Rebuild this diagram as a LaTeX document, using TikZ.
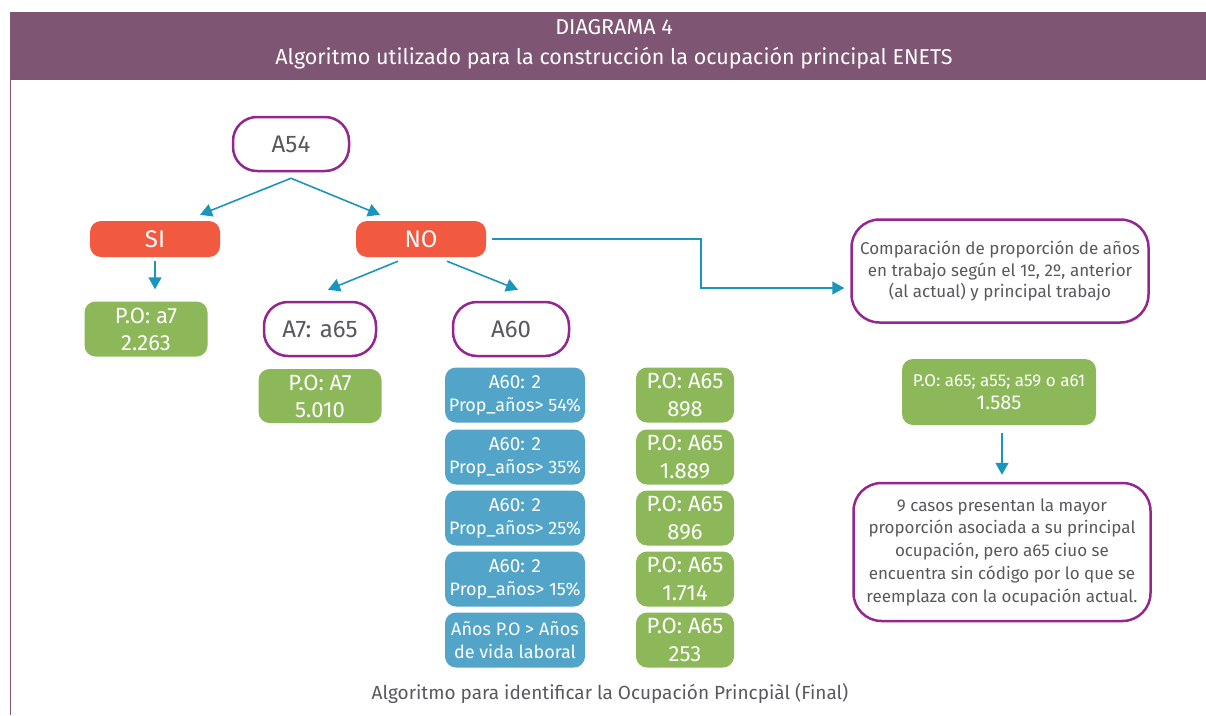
\documentclass[tikz,border=0pt]{standalone}
\usepackage{fontspec}
\setmainfont{Fira Sans}
\usetikzlibrary{arrows.meta}

\definecolor{cabecera}{HTML}{7E5573}
\definecolor{morado}{HTML}{93278F}
\definecolor{rojo}{HTML}{F15A40}
\definecolor{verde}{HTML}{8CB85A}
\definecolor{azul}{HTML}{52A5C8}
\definecolor{flecha}{HTML}{1A96BD}
\definecolor{texto}{HTML}{58595B}

\tikzset{
pregunta/.style={draw=morado, line width=2.5pt, rounded corners=24pt, fill=white, text=texto, align=center, inner sep=0pt},
respuesta/.style={fill=rojo, rounded corners=11pt, text=white, minimum width=130pt, minimum height=36pt, inner sep=0pt, font=\fontsize{24}{28}\selectfont},
resultado/.style={fill=verde, rounded corners=11pt, text=white, align=center, inner sep=0pt},
condicion/.style={fill=azul, rounded corners=11pt, text=white, align=center, inner sep=0pt, minimum width=140pt, minimum height=55pt, font=\fontsize{18}{23}\selectfont},
flechita/.style={draw=flecha, line width=1.6pt, -{Triangle[width=13pt,length=12pt]}}
}

\begin{document}
\begin{tikzpicture}[x=1pt, y=-1pt]
\useasboundingbox (0,0) rectangle (1206,715);
\fill[cabecera] (10,12) rectangle (1206,80);
\draw[cabecera, line width=0.8pt] (10,80) -- (10,715);
\node[text=white, font=\fontsize{21.5}{24}\selectfont] (titulo) at (614,27) {DIAGRAMA 4};
\node[text=white, font=\fontsize{21.5}{24}\selectfont] (subtitulo) at (614,58) {Algoritmo utilizado para la construcción la ocupación principal ENETS};

\node[pregunta, minimum width=116pt, minimum height=54pt, font=\fontsize{24}{28}\selectfont] (a54) at (291,144) {A54};
\node[respuesta] (si) at (155,239) {SI};
\node[respuesta] (no) at (421,239) {NO};
\node[resultado, minimum width=123pt, minimum height=55pt, font=\fontsize{22}{27}\selectfont] (poa7) at (146,329) {P.O: a7\\2.263};
\node[pregunta, minimum width=112pt, minimum height=54pt, font=\fontsize{24}{28}\selectfont] (a7) at (320,329) {A7: a65};
\node[pregunta, minimum width=116pt, minimum height=54pt, font=\fontsize{24}{28}\selectfont] (a60) at (511,329) {A60};
\node[resultado, minimum width=123pt, minimum height=54pt, font=\fontsize{22}{27}\selectfont] (poA7) at (320,396) {P.O: A7\\5.010};

\node[condicion] (c1) at (515,395) {{\fontsize{19}{23}\selectfont A60: 2}\\Prop\_años> 54\%};
\node[condicion] (c2) at (515,457) {{\fontsize{19}{23}\selectfont A60: 2}\\Prop\_años> 35\%};
\node[condicion] (c3) at (515,518) {{\fontsize{19}{23}\selectfont A60: 2}\\Prop\_años> 25\%};
\node[condicion] (c4) at (515,579) {{\fontsize{19}{23}\selectfont A60: 2}\\Prop\_años> 15\%};
\node[condicion] (c5) at (515,640) {Años P.O > Años\\de vida laboral};

\node[resultado, minimum width=98pt, minimum height=55pt, font=\fontsize{22}{28}\selectfont] (r1) at (685,395) {P.O: A65\\898};
\node[resultado, minimum width=98pt, minimum height=55pt, font=\fontsize{22}{28}\selectfont] (r2) at (685,457) {P.O: A65\\1.889};
\node[resultado, minimum width=98pt, minimum height=55pt, font=\fontsize{22}{28}\selectfont] (r3) at (685,518) {P.O: A65\\896};
\node[resultado, minimum width=98pt, minimum height=55pt, font=\fontsize{22}{28}\selectfont] (r4) at (685,579) {P.O: A65\\1.714};
\node[resultado, minimum width=98pt, minimum height=55pt, font=\fontsize{22}{28}\selectfont] (r5) at (685,640) {P.O: A65\\253};

\node[pregunta, rounded corners=28pt, minimum width=297pt, minimum height=103pt, font=\fontsize{17}{21.5}\selectfont] (comp) at (1000,271) {Comparación de proporción de años\\en trabajo según el 1º, 2º, anterior\\(al actual) y principal trabajo};
\node[resultado, minimum width=194pt, minimum height=66pt, font=\fontsize{20}{23}\selectfont] (pofin) at (999,392) {{\fontsize{17}{23}\selectfont P.O: a65; a55; a59 o a61}\\1.585};
\node[pregunta, rounded corners=28pt, minimum width=297pt, minimum height=138pt, font=\fontsize{17}{22.75}\selectfont] (casos) at (1002,552) {9 casos presentan la mayor\\proporción asociada a su principal\\ocupación, pero a65 ciuo se\\encuentra sin código por lo que se\\reemplaza con la ocupación actual.};

\node[text=texto, font=\fontsize{19}{22}\selectfont] (pie) at (610,693) {Algoritmo para identificar la Ocupación Princpiàl (Final)};

\coordinate (bifurca) at ([yshift=-6pt]a54.south);
\draw[flechita] (bifurca) -- ([xshift=45pt,yshift=6pt]si.north);
\draw[flechita] (bifurca) -- ([xshift=-41pt,yshift=6pt]no.north);
\draw[flechita] ([yshift=-4pt]si.south) -- ([xshift=9pt,yshift=12pt]poa7.north);
\draw[flechita] ([xshift=-23pt,yshift=-4pt]no.south) -- ([xshift=8pt,yshift=11pt]a7.north);
\draw[flechita] ([xshift=26pt,yshift=-4pt]no.south) -- ([xshift=7pt,yshift=11pt]a60.north);
\coordinate (giro) at (701,239);
\draw[flechita] ([xshift=6pt]no.east) -- (giro) |- ([xshift=-6pt,yshift=-17pt]comp.west);
\draw[flechita] ([xshift=3pt,yshift=-8pt]pofin.south) -- ([yshift=7pt]casos.north);
\end{tikzpicture}
\end{document}
